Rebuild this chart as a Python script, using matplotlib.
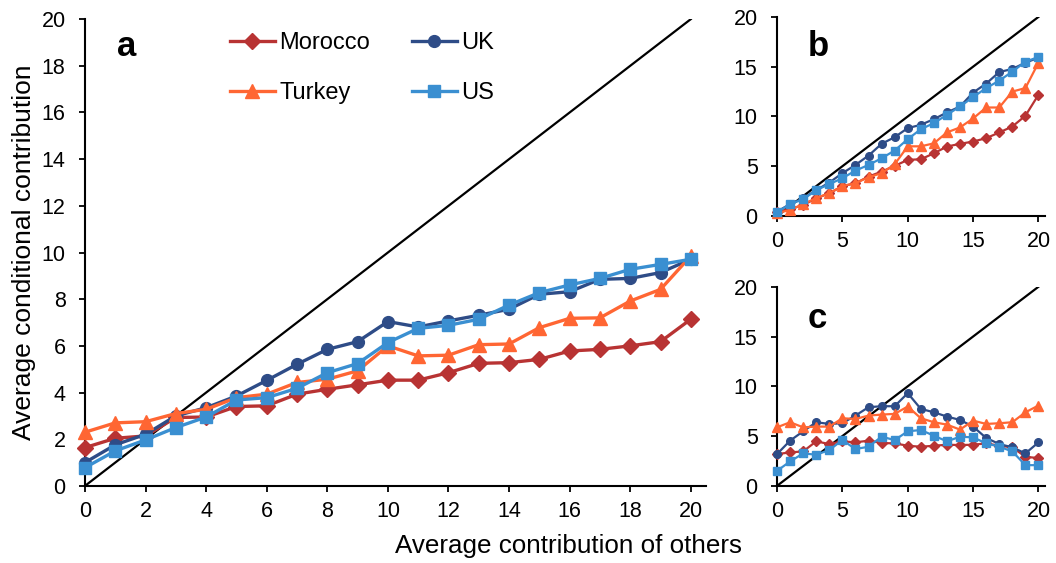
import matplotlib.pyplot as plt

plt.rcParams['font.family'] = ['Liberation Sans', 'DejaVu Sans']

x = list(range(21))

# panel a
a_morocco = [1.64, 2.04, 2.14, 2.93, 2.95, 3.4, 3.43, 3.93, 4.14, 4.33, 4.53, 4.53, 4.85, 5.25, 5.28, 5.42, 5.78, 5.85, 6.0, 6.18, 7.14]
a_turkey = [2.3, 2.7, 2.75, 3.1, 3.28, 3.78, 3.93, 4.43, 4.57, 4.93, 6.0, 5.57, 5.6, 6.05, 6.08, 6.78, 7.18, 7.2, 7.92, 8.42, 9.85]
a_uk = [1.0, 1.76, 2.21, 3.0, 3.35, 3.85, 4.52, 5.21, 5.85, 6.18, 7.04, 6.81, 7.07, 7.31, 7.57, 8.21, 8.32, 8.85, 8.89, 9.14, 9.71]
a_us = [0.78, 1.5, 1.97, 2.5, 2.95, 3.68, 3.78, 4.18, 4.85, 5.24, 6.14, 6.75, 6.88, 7.14, 7.75, 8.28, 8.61, 8.89, 9.28, 9.49, 9.71]

# panel b
b_morocco = [0.44, 0.7, 1.1, 1.78, 2.28, 3.0, 3.29, 3.96, 4.46, 5.03, 5.64, 5.7, 6.3, 6.98, 7.25, 7.48, 7.82, 8.39, 8.99, 10.07, 12.18]
b_turkey = [0.3, 0.6, 1.2, 1.8, 2.3, 3.0, 3.3, 3.9, 4.3, 5.2, 7.0, 7.0, 7.3, 8.4, 8.9, 9.8, 10.9, 10.9, 12.5, 12.85, 15.4]
b_uk = [0.44, 1.2, 1.78, 2.6, 3.36, 4.3, 5.13, 6.07, 7.25, 7.92, 8.83, 9.16, 9.73, 10.4, 11.0, 12.4, 13.3, 14.46, 14.77, 15.4, 15.9]
b_us = [0.37, 1.2, 1.68, 2.6, 3.2, 3.8, 4.56, 5.13, 5.8, 6.58, 7.72, 8.72, 9.33, 10.17, 11.0, 11.95, 12.85, 13.6, 14.5, 15.5, 15.97]

# panel c
c_morocco = [3.19, 3.36, 3.46, 4.47, 4.2, 4.47, 4.37, 4.54, 4.3, 4.27, 4.03, 3.93, 4.03, 4.13, 4.1, 4.13, 4.27, 4.03, 3.87, 2.92, 2.79]
c_turkey = [5.88, 6.39, 5.88, 5.95, 5.95, 6.79, 6.72, 7.06, 7.16, 7.23, 7.97, 6.79, 6.39, 6.15, 5.65, 6.55, 6.22, 6.29, 6.39, 7.39, 8.07]
c_uk = [3.19, 4.54, 5.48, 6.39, 6.22, 6.29, 7.06, 7.9, 8.0, 8.0, 9.31, 7.73, 7.39, 6.96, 6.62, 5.95, 4.81, 4.2, 3.87, 3.26, 4.37]
c_us = [1.51, 2.45, 3.26, 3.13, 3.6, 4.6, 3.7, 3.93, 4.94, 4.6, 5.48, 5.61, 5.04, 4.47, 4.94, 4.87, 4.27, 3.93, 3.46, 2.08, 2.08]

colors = {'Morocco': '#B83333', 'Turkey': '#FF6633', 'UK': '#2E4C87', 'US': '#3A8FD1'}
markers = {'Morocco': 'D', 'Turkey': '^', 'UK': 'o', 'US': 's'}
big_ms = {'Morocco': 8, 'Turkey': 10, 'UK': 8.5, 'US': 8.5}
small_ms = {'Morocco': 5, 'Turkey': 6.5, 'UK': 5.5, 'US': 5.5}

fig = plt.figure(figsize=(10.56, 5.63), dpi=100)
ax_a = fig.add_axes([0.0805, 0.137, 0.588, 0.829])
ax_b = fig.add_axes([0.7358, 0.6163, 0.2538, 0.3537])
ax_c = fig.add_axes([0.7358, 0.137, 0.2538, 0.3537])


def style(ax, xt, yt):
    ax.plot([0, 20], [0, 20], color='black', lw=1.6, zorder=1)
    ax.set_xlim(0, 20.5)
    ax.set_ylim(0, 20)
    ax.set_xticks(xt)
    ax.set_yticks(yt)
    for s in ['top', 'right']:
        ax.spines[s].set_visible(False)
    for s in ['left', 'bottom']:
        ax.spines[s].set_linewidth(1.5)
    ax.tick_params(direction='out', length=4, width=1.3, labelsize=15.5)
    ax.tick_params(axis='x', pad=7)
    ax.tick_params(axis='y', pad=10)


data_a = {'Morocco': a_morocco, 'Turkey': a_turkey, 'UK': a_uk, 'US': a_us}
data_b = {'Morocco': b_morocco, 'Turkey': b_turkey, 'UK': b_uk, 'US': b_us}
data_c = {'Morocco': c_morocco, 'Turkey': c_turkey, 'UK': c_uk, 'US': c_us}

lines = {}
for n in ['Morocco', 'UK', 'Turkey', 'US']:
    lines[n], = ax_a.plot(x, data_a[n], color=colors[n], marker=markers[n], ms=big_ms[n],
                          lw=2.4, label=n, clip_on=False, zorder=3)
    ax_b.plot(x, data_b[n], color=colors[n], marker=markers[n], ms=small_ms[n],
              lw=1.6, clip_on=False, zorder=3)
    ax_c.plot(x, data_c[n], color=colors[n], marker=markers[n], ms=small_ms[n],
              lw=1.6, clip_on=False, zorder=3)

style(ax_a, range(0, 21, 2), range(0, 21, 2))
style(ax_b, range(0, 21, 5), range(0, 21, 5))
style(ax_c, range(0, 21, 5), range(0, 21, 5))

ax_a.set_ylabel('Average conditional contribution', fontsize=19, labelpad=4)
fig.text(0.538, 0.03, 'Average contribution of others', fontsize=18.7, ha='center', va='center')

ax_a.text(117 / 1056, 1 - 46 / 563, 'a', transform=fig.transFigure, fontsize=25,
          fontweight='bold', va='center', ha='left')
ax_b.text(808 / 1056, 1 - 46 / 563, 'b', transform=fig.transFigure, fontsize=25,
          fontweight='bold', va='center', ha='left')
ax_c.text(808 / 1056, 1 - 318 / 563, 'c', transform=fig.transFigure, fontsize=25,
          fontweight='bold', va='center', ha='left')

leg_order = ['Morocco', 'Turkey', 'UK', 'US']
fig.legend([lines[n] for n in leg_order], leg_order, ncol=2, loc='upper left',
           bbox_to_anchor=(230 / 1056, 1 - 32 / 563), frameon=False, fontsize=17,
           borderpad=0, borderaxespad=0, handlelength=1.9, handletextpad=0.2,
           columnspacing=1.75, labelspacing=1.2, numpoints=1)

fig.savefig('out.png', dpi=100)
